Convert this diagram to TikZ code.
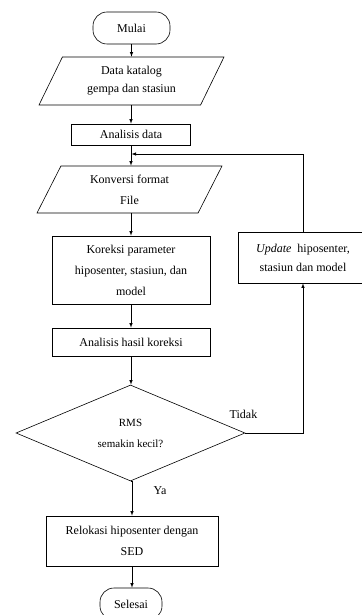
\documentclass[tikz,border=0pt]{standalone}
\usepackage{fontspec}
\setmainfont{Liberation Serif}
\usetikzlibrary{shapes.geometric,arrows}

\begin{document}
\begin{tikzpicture}[x=1pt,y=-1pt,line width=0.6pt,>=latex,
    font=\fontsize{12}{21}\selectfont,
    terminal/.style={draw,rectangle,rounded corners=14pt,minimum width=77pt,minimum height=32pt},
    inout/.style={draw,trapezium,trapezium left angle=51,trapezium right angle=129,
      trapezium stretches body,minimum width=185pt,minimum height=48pt,inner sep=0pt,align=center},
    process/.style={draw,rectangle,align=center,inner sep=0pt},
    decision/.style={draw,diamond,minimum width=229pt,minimum height=96pt,inner sep=0pt,align=center}]
  \useasboundingbox (0,0) rectangle (361,615);
  \node[terminal] (mulai) at (131.5,28) {Mulai};
  \node[inout,font=\fontsize{12}{18}\selectfont] (data) at (131.5,81) {Data katalog\\gempa dan stasiun};
  \node[process,minimum width=119pt,minimum height=21pt] (analisis) at (131,134.5) {Analisis data};
  \node[inout,minimum height=47pt] (konversi) at (129.5,189.5) {Konversi format\\File};
  \node[process,minimum width=158pt,minimum height=68pt] (koreksi) at (131,270)
    {Koreksi parameter\\hiposenter, stasiun, dan\\model};
  \node[process,minimum width=158pt,minimum height=28pt] (hasil) at (131,342) {Analisis hasil koreksi};
  \node[decision,font=\fontsize{11}{21}\selectfont] (rms) at (130.5,433) {RMS\\semakin kecil?};
  \node[process,minimum width=172pt,minimum height=50pt] (relokasi) at (132,541)
    {Relokasi hiposenter dengan\\SED};
  \node[terminal,minimum width=62pt] (selesai) at (131,604) {Selesai};
  \node[process,minimum width=130pt,minimum height=51pt,font=\fontsize{12}{19}\selectfont] (update) at (303,257.5)
    {\textit{Update}\ \ hiposenter,\\stasiun dan model};
  \coordinate (masuk) at (131.5,154);
  \coordinate (belok) at (303,433);

  \draw[->] (mulai) -- (data);
  \draw[->] (data.south -| analisis.north) -- (analisis);
  \draw[->] (analisis.south) -- (analisis.south |- konversi.north);
  \draw[->] (konversi.south -| koreksi.north) -- (koreksi);
  \draw[->] (koreksi) -- (hasil);
  \draw[->] (hasil.south) -- (hasil.south |- rms.north);
  \draw[->] (rms.south |- rms.south) -- (rms.south -| relokasi.north) -- (relokasi);
  \draw[->] (relokasi.south) -- (relokasi.south |- selesai.north);
  \draw[->] (rms.east) -- (belok) -- (update.south);
  \draw[->] (update.north) |- (masuk);
  \node (tidak) at (243.5,414) {Tidak};
  \node (ya) at (160,491) {Ya};
\end{tikzpicture}
\end{document}
